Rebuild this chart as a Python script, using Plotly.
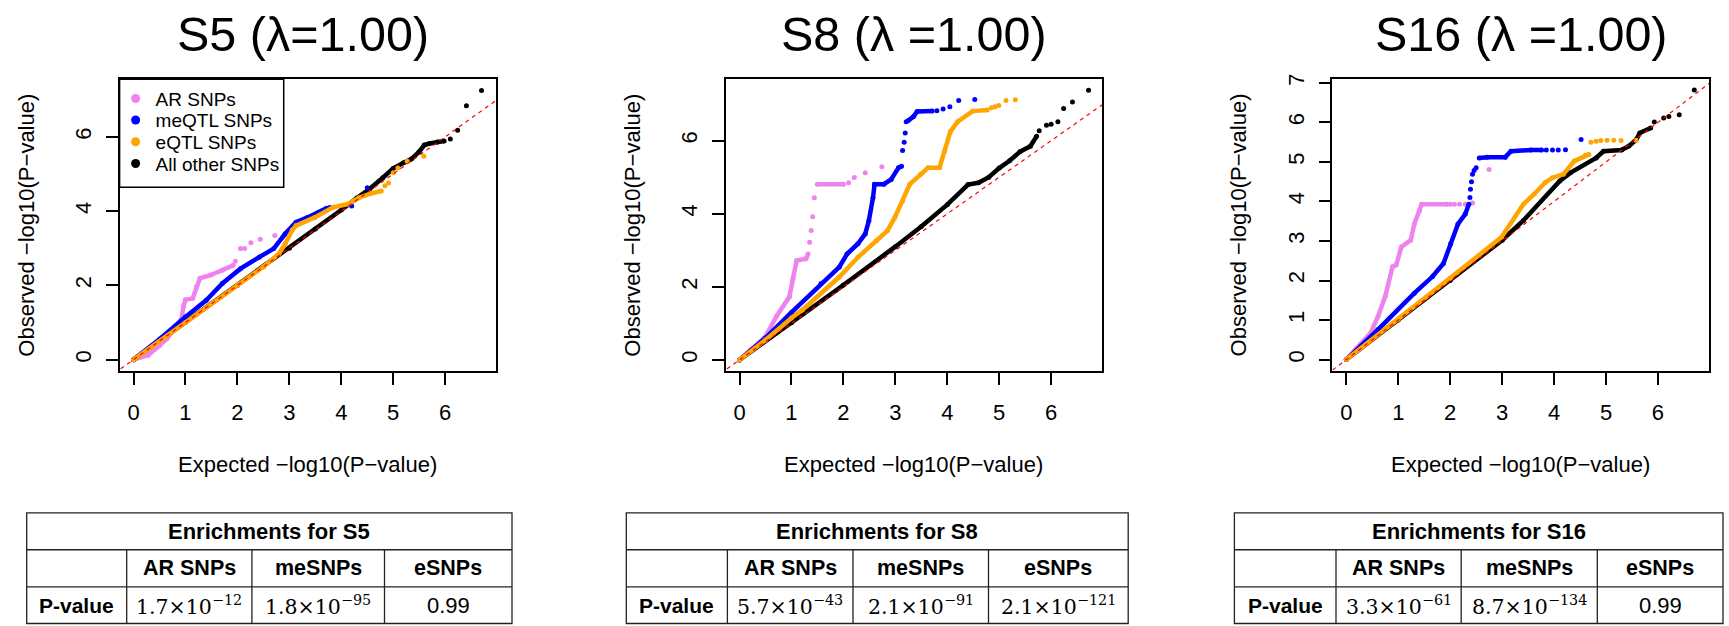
import plotly.graph_objects as go

W, H = 1729, 626

# ---------------- data ----------------
PANEL_TITLES = ["S5 (λ=1.00)", "S8 (λ =1.00)", "S16 (λ =1.00)"]
SERIES_NAMES = ["AR SNPs", "meQTL SNPs", "eQTL SNPs", "All other SNPs"]
SERIES_COLORS = ["violet", "blue", "orange", "black"]
Y_RANGES = [[-0.30, 7.55], [-0.295, 7.68], [-0.283, 7.09]]
Y_TICKS = [[0, 2, 4, 6], [0, 2, 4, 6], [0, 1, 2, 3, 4, 5, 6, 7]]
X_TICKS = [0, 1, 2, 3, 4, 5, 6]
X_RANGE = [-0.268, 6.985]

# S5 : dense runs of points (LINE) and isolated points (DOTS)
S5_AR_LINE = [(0, 0), (0.28, 0.12), (0.5, 0.38), (0.64, 0.56), (0.8, 0.85), (0.93, 1.12), (0.96, 1.43),
              (1.0, 1.61), (1.14, 1.65), (1.21, 1.96), (1.28, 2.19), (1.49, 2.28), (1.71, 2.41), (1.92, 2.54)]
S5_AR_DOTS = [(1.96, 2.65), (2.06, 2.99), (2.14, 2.99), (2.26, 3.15), (2.44, 3.24), (2.72, 3.34)]
S5_ME_LINE = [(0, 0), (0.5, 0.55), (1.0, 1.15), (1.4, 1.6), (1.71, 2.05), (2.06, 2.45), (2.42, 2.76),
              (2.70, 2.99), (2.92, 3.39), (3.13, 3.70), (3.35, 3.83), (3.56, 3.96), (3.72, 4.08)]
S5_ME_DOTS = [(3.78, 4.1), (4.2, 4.14), (4.5, 4.63)]
S5_E_LINE = [(0, 0), (1, 1.0), (2, 2.02), (2.5, 2.5), (2.8, 2.85), (2.92, 3.12), (3.06, 3.5), (3.13, 3.61),
             (3.49, 3.83), (3.84, 4.1), (4.13, 4.19), (4.34, 4.36), (4.56, 4.47), (4.77, 4.54)]
S5_E_DOTS = [(4.84, 4.68), (4.91, 4.76), (5.0, 5.03), (5.09, 5.16), (5.27, 5.34), (5.59, 5.48)]
S5_ALL_LINE = [(0, 0), (1, 1.0), (2, 2.0), (2.5, 2.5), (3, 3.0), (3.5, 3.52), (4.0, 4.03), (4.3, 4.35),
               (4.55, 4.6), (4.8, 4.9), (5.0, 5.15), (5.2, 5.3), (5.35, 5.4), (5.5, 5.6), (5.6, 5.78),
               (5.7, 5.82), (5.85, 5.86), (5.98, 5.89)]
S5_ALL_DOTS = [(6.1, 5.94), (6.24, 6.18), (6.41, 6.84), (6.70, 7.25)]

# S8
S8_AR_LINE = [(0, 0), (0.21, 0.28), (0.5, 0.64), (0.71, 1.19), (0.96, 1.73), (1.03, 2.23), (1.1, 2.72),
              (1.28, 2.77), (1.32, 2.9), None, (1.5, 4.81), (2.0, 4.81)]
S8_AR_DOTS = [(1.35, 3.22), (1.38, 3.54), (1.41, 3.92), (1.44, 4.44), (2.1, 4.85), (2.21, 4.99),
              (2.42, 5.12), (2.74, 5.29)]
S8_ME_LINE = [(0, 0), (0.5, 0.6), (1.0, 1.3), (1.57, 2.09), (1.92, 2.54), (2.07, 2.9), (2.28, 3.18),
              (2.42, 3.45), (2.49, 3.81), (2.57, 4.44), (2.6, 4.81), (2.78, 4.81), (2.92, 4.94),
              (3.06, 5.26), (3.12, 5.3), None, (3.25, 6.55), (3.35, 6.66), (3.42, 6.8), (3.71, 6.81)]
S8_ME_DOTS = [(3.14, 5.73), (3.17, 5.96), (3.19, 6.21), (3.21, 6.52), (3.8, 6.82), (3.92, 6.87),
              (4.05, 6.93), (4.22, 7.1), (4.53, 7.13)]
S8_E_LINE = [(0, 0), (0.5, 0.55), (1.0, 1.15), (1.21, 1.37), (1.92, 2.27), (2.28, 2.81), (2.64, 3.27),
             (2.85, 3.54), (2.99, 3.9), (3.14, 4.35), (3.28, 4.81), (3.49, 5.08), (3.63, 5.26),
             (3.85, 5.26), (3.95, 5.71), (4.06, 6.25), (4.2, 6.52), (4.49, 6.81), (4.77, 6.84)]
S8_E_DOTS = [(4.85, 6.9), (4.92, 6.93), (4.99, 6.96), (5.13, 7.1), (5.31, 7.12)]
S8_ALL_LINE = [(0, 0), (1, 1.02), (2, 2.05), (3, 3.1), (3.5, 3.65), (4, 4.25), (4.4, 4.8), (4.6, 4.85),
               (4.8, 5.0), (5.0, 5.25), (5.2, 5.45), (5.4, 5.7), (5.6, 5.85), (5.72, 6.12)]
S8_ALL_DOTS = [(5.77, 6.27), (5.91, 6.42), (6.0, 6.45), (6.13, 6.52), (6.24, 6.88), (6.41, 7.06),
               (6.72, 7.38)]

# S16
S16_AR_LINE = [(0, 0), (0.19, 0.26), (0.47, 0.68), (0.61, 1.09), (0.75, 1.6), (0.89, 2.35), (0.96, 2.39),
               (1.06, 2.85), (1.24, 3.02), (1.31, 3.43), (1.41, 3.77), (1.45, 3.93), (1.94, 3.93)]
S16_AR_DOTS = [(2.0, 3.93), (2.08, 3.93), (2.18, 3.93), (2.29, 3.93), (2.43, 3.96), (2.75, 4.81)]
S16_ME_LINE = [(0, 0), (0.61, 0.76), (1.31, 1.68), (1.66, 2.1), (1.87, 2.43), (2.01, 2.93), (2.15, 3.43),
               (2.29, 3.68), (2.36, 3.93), None, (2.56, 5.1), (2.71, 5.12), (3.06, 5.12), (3.17, 5.27),
               (3.55, 5.3), (3.76, 5.3)]
S16_ME_DOTS = [(2.38, 4.1), (2.39, 4.31), (2.41, 4.5), (2.43, 4.69), (2.46, 4.78), (2.5, 4.85),
               (3.85, 5.3), (3.97, 5.3), (4.08, 5.3), (4.22, 5.31), (4.52, 5.57)]
S16_E_LINE = [(0, 0), (1, 1.02), (2, 2.06), (2.99, 3.1), (3.41, 3.93), (3.62, 4.19), (3.83, 4.48),
              (3.97, 4.6), (4.18, 4.69), (4.39, 5.02), (4.6, 5.17), (4.67, 5.19)]
S16_E_DOTS = [(4.71, 5.5), (4.81, 5.52), (4.9, 5.54), (5.02, 5.55), (5.15, 5.55), (5.29, 5.54),
              (5.58, 5.55)]
S16_ALL_LINE = [(0, 0), (1, 1), (2, 2), (3, 3.02), (3.41, 3.52), (4.11, 4.52), (4.32, 4.73), (4.81, 5.1),
                (4.95, 5.27), (5.3, 5.3), (5.44, 5.4), (5.58, 5.56), (5.65, 5.73), (5.86, 5.86)]
S16_ALL_DOTS = [(5.93, 6.01), (6.11, 6.11), (6.21, 6.15), (6.41, 6.19), (6.7, 6.82)]

PANEL_DATA = [
    {"AR SNPs": (S5_AR_LINE, S5_AR_DOTS), "meQTL SNPs": (S5_ME_LINE, S5_ME_DOTS),
     "eQTL SNPs": (S5_E_LINE, S5_E_DOTS), "All other SNPs": (S5_ALL_LINE, S5_ALL_DOTS)},
    {"AR SNPs": (S8_AR_LINE, S8_AR_DOTS), "meQTL SNPs": (S8_ME_LINE, S8_ME_DOTS),
     "eQTL SNPs": (S8_E_LINE, S8_E_DOTS), "All other SNPs": (S8_ALL_LINE, S8_ALL_DOTS)},
    {"AR SNPs": (S16_AR_LINE, S16_AR_DOTS), "meQTL SNPs": (S16_ME_LINE, S16_ME_DOTS),
     "eQTL SNPs": (S16_E_LINE, S16_E_DOTS), "All other SNPs": (S16_ALL_LINE, S16_ALL_DOTS)},
]

# tables
TABLE_TITLES = ["Enrichments for S5", "Enrichments for S8", "Enrichments for S16"]
TABLE_COLS = ["AR SNPs", "meSNPs", "eSNPs"]
TABLE_ROW_LABEL = "P-value"
TABLE_VALUES = [
    [("1.7", "−12"), ("1.8", "−95"), ("0.99", None)],
    [("5.7", "−43"), ("2.1", "−91"), ("2.1", "−121")],
    [("3.3", "−61"), ("8.7", "−134"), ("0.99", None)],
]

# ---------------- layout geometry (pixels) ----------------
PLOT_LEFT = [119.6, 725.6, 1332.4]
PLOT_W = 376.7
PLOT_TOP, PLOT_BOTTOM = 74.0, 368.3
TITLE_DX = [-5, 0, 1]
TABLE_XS = [[26.7, 126.7, 251.9, 384.5, 512.0],
            [626.3, 727.4, 853.0, 988.5, 1128.2],
            [1234.4, 1336.0, 1461.2, 1597.3, 1723.0]]
TABLE_YS = [511.7, 549.0, 586.5, 623.5]
LEGEND_BOX = (119.6, 74.0, 283.7, 183.0)
LEGEND_ROWS = [93.5, 115.3, 137.2, 159.2]

FONT = "Liberation Sans, Arial, Helvetica, sans-serif"
SERIF = "DejaVu Serif, Liberation Serif, serif"


def px(x):
    return x / W


def py(y):
    return 1 - y / H


def split(points):
    xs, ys = [], []
    for p in points:
        if p is None:
            xs.append(None)
            ys.append(None)
        else:
            xs.append(p[0])
            ys.append(p[1])
    return xs, ys


fig = go.Figure()
draw_order = ["All other SNPs", "AR SNPs", "meQTL SNPs", "eQTL SNPs"]
color_of = dict(zip(SERIES_NAMES, SERIES_COLORS))

for i in range(3):
    xa = "x" if i == 0 else f"x{i + 1}"
    ya = "y" if i == 0 else f"y{i + 1}"
    for name in draw_order:
        line_pts, dot_pts = PANEL_DATA[i][name]
        lx, ly = split(line_pts)
        dx, dy = split(dot_pts)
        c = color_of[name]
        fig.add_trace(go.Scatter(x=lx, y=ly, mode="lines+markers", xaxis=xa, yaxis=ya,
                                 line=dict(color=c, width=4.5), marker=dict(color=c, size=5),
                                 showlegend=False, hoverinfo="skip"))
        fig.add_trace(go.Scatter(x=dx, y=dy, mode="markers", xaxis=xa, yaxis=ya,
                                 marker=dict(color=c, size=5), showlegend=False, hoverinfo="skip"))
    fig.add_trace(go.Scatter(x=[-1, 8], y=[-1, 8], mode="lines", xaxis=xa, yaxis=ya,
                             line=dict(color="red", width=1.2, dash="4px,4px"),
                             showlegend=False, hoverinfo="skip"))

# legend entries (panel 1): one small legend per row, inside a drawn border box
legend_layouts = {}
for k, name in enumerate(SERIES_NAMES):
    lg = "legend" if k == 0 else f"legend{k + 1}"
    fig.add_trace(go.Scatter(x=[None], y=[None], mode="markers", name=name, xaxis="x", yaxis="y",
                             marker=dict(color=color_of[name], size=9), legend=lg, showlegend=True))
    legend_layouts[lg] = dict(x=px(LEGEND_BOX[0] - 4), y=py(LEGEND_ROWS[k]), xanchor="left", yanchor="middle",
                              bgcolor="rgba(0,0,0,0)", borderwidth=0,
                              font=dict(family=FONT, size=19, color="black"), itemwidth=30)

axis_style = dict(showline=True, linecolor="black", linewidth=1.5, mirror=True, ticks="outside",
                  ticklen=12, tickwidth=1.5, tickcolor="black", showgrid=False, zeroline=False,
                  tickfont=dict(family=FONT, size=22, color="black"))

annotations = []
shapes = []
for i in range(3):
    xk = "xaxis" if i == 0 else f"xaxis{i + 1}"
    yk = "yaxis" if i == 0 else f"yaxis{i + 1}"
    L = PLOT_LEFT[i]
    R = L + PLOT_W
    fig.layout[xk] = dict(domain=[px(L), px(R)], range=X_RANGE, tickvals=X_TICKS,
                          anchor="y" if i == 0 else f"y{i + 1}", ticklabelstandoff=9, **axis_style)
    fig.layout[yk] = dict(domain=[py(PLOT_BOTTOM), py(PLOT_TOP)], range=Y_RANGES[i], tickvals=Y_TICKS[i],
                          anchor="x" if i == 0 else f"x{i + 1}", tickangle=-90, ticklabelstandoff=6,
                          **axis_style)
    cx = (L + R) / 2
    annotations.append(dict(text=PANEL_TITLES[i], x=px(cx + TITLE_DX[i]), y=py(28), xref="paper", yref="paper",
                            showarrow=False, xanchor="center", yanchor="middle",
                            font=dict(family=FONT, size=48.5, color="black")))
    annotations.append(dict(text="Expected −log10(P−value)", x=px(cx), y=py(463), xref="paper",
                            yref="paper", showarrow=False, xanchor="center", yanchor="middle",
                            font=dict(family=FONT, size=22, color="black")))
    annotations.append(dict(text="Observed −log10(P−value)", x=px(L - 94), y=py((PLOT_TOP + PLOT_BOTTOM) / 2),
                            xref="paper", yref="paper", showarrow=False, xanchor="center",
                            yanchor="middle", textangle=-90,
                            font=dict(family=FONT, size=22, color="black")))

    # table
    xs = TABLE_XS[i]
    ys = TABLE_YS
    lc = dict(color="#222", width=1.3)
    shapes.append(dict(type="rect", xref="paper", yref="paper", x0=px(xs[0]), x1=px(xs[-1]),
                       y0=py(ys[0]), y1=py(ys[-1]), line=lc))
    for yy in ys[1:-1]:
        shapes.append(dict(type="line", xref="paper", yref="paper", x0=px(xs[0]), x1=px(xs[-1]),
                           y0=py(yy), y1=py(yy), line=lc))
    for xx in xs[1:-1]:
        shapes.append(dict(type="line", xref="paper", yref="paper", x0=px(xx), x1=px(xx),
                           y0=py(ys[1]), y1=py(ys[-1]), line=lc))
    annotations.append(dict(text=f"<b>{TABLE_TITLES[i]}</b>", x=px((xs[0] + xs[-1]) / 2),
                            y=py((ys[0] + ys[1]) / 2), xref="paper", yref="paper", showarrow=False,
                            xanchor="center", yanchor="middle", font=dict(family=FONT, size=22, color="black")))
    for j, col in enumerate(TABLE_COLS):
        annotations.append(dict(text=f"<b>{col}</b>", x=px((xs[j + 1] + xs[j + 2]) / 2),
                                y=py((ys[1] + ys[2]) / 2), xref="paper", yref="paper", showarrow=False,
                                xanchor="center", yanchor="middle",
                                font=dict(family=FONT, size=21.5, color="black")))
    annotations.append(dict(text=f"<b>{TABLE_ROW_LABEL}</b>", x=px((xs[0] + xs[1]) / 2),
                            y=py((ys[2] + ys[3]) / 2), xref="paper", yref="paper", showarrow=False,
                            xanchor="center", yanchor="middle", font=dict(family=FONT, size=21, color="black")))
    for j, (mant, expo) in enumerate(TABLE_VALUES[i]):
        if expo is None:
            txt, fam, fs = mant, FONT, 22
        else:
            txt, fam, fs = f"{mant}×10<sup>{expo}</sup>", SERIF, 20.5
        annotations.append(dict(text=txt, x=px((xs[j + 1] + xs[j + 2]) / 2),
                                y=py((ys[2] + ys[3]) / 2), xref="paper", yref="paper",
                                showarrow=False, xanchor="center", yanchor="middle",
                                font=dict(family=fam, size=fs, color="black")))

# legend border box
shapes.append(dict(type="rect", xref="paper", yref="paper", x0=px(LEGEND_BOX[0]), x1=px(LEGEND_BOX[2]),
                   y0=py(LEGEND_BOX[3]), y1=py(LEGEND_BOX[1]), line=dict(color="black", width=1.5)))

fig.update_layout(
    width=W, height=H, margin=dict(l=0, r=0, t=0, b=0),
    plot_bgcolor="white", paper_bgcolor="white",
    showlegend=True,
    annotations=annotations, shapes=shapes,
    **legend_layouts,
)

fig.write_html("out.html", config={"displayModeBar": False},
               post_script="document.body.style.margin='0';document.body.style.overflow='hidden';")
